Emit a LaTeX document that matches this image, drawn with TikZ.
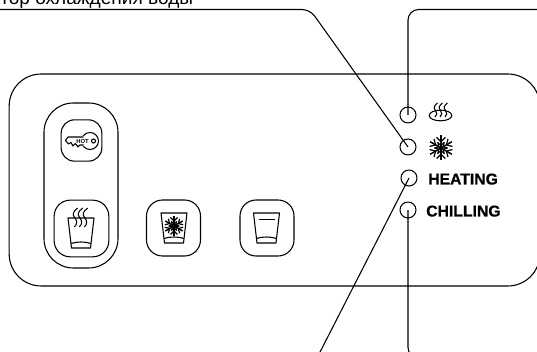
\documentclass[tikz,border=0pt]{standalone}
\usepackage{fontspec}
\usetikzlibrary{shapes.geometric}
\setmainfont{Liberation Sans}
\newfontfamily\boldlabel[FakeBold=0.6]{Liberation Sans Bold}
\tikzset{
  line/.style={line width=0.8pt,black},
  led/.style={circle,draw,line,minimum size=12pt,inner sep=0pt},
  btn/.style={rectangle,draw,line,inner sep=0pt,rounded corners=12pt},
  lbl/.style={font=\fontsize{11.8pt}{12pt}\boldlabel,anchor=base west,inner sep=0pt},
  steamcurve/.pic={\draw[line] (2,0) .. controls (-2,3) and (-2,5) .. (0,7.5) .. controls (2,10) and (1.5,12) .. (-0.5,14);},
  flakepic/.pic={
    \foreach \a in {0,60,...,300}{
      \begin{scope}[rotate=\a+30]
        \draw[line,line width=1.1pt] (0,0) -- (#1,0);
        \draw[line,line width=0.9pt] (0.5*#1,0) -- (0.85*#1,0.35*#1) (0.5*#1,0) -- (0.85*#1,-0.35*#1);
        \draw[line,line width=0.9pt] (0.2*#1,0) -- (0.45*#1,0.27*#1) (0.2*#1,0) -- (0.45*#1,-0.27*#1);
      \end{scope}}
  },
  cuppic/.pic={
    \draw[line,line join=round] (-13,-15) -- (13,-15) -- (9.5,15) -- (-9.5,15) -- cycle;
    \draw[line] (-10,10.5) .. controls (-4,8.5) and (4,8.5) .. (10,10.5);
  }
}
\begin{document}
\begin{tikzpicture}[x=0.75pt,y=-0.75pt]
\useasboundingbox (0,0) rectangle (537,352);
\clip (0,0) rectangle (537,352);
% caption
\node[anchor=base west,inner sep=0pt,font=\fontsize{14.3pt}{15pt}\selectfont] (cap) at (0,5) {тор охлаждения воды};
% panel and capsule
\node[btn,rounded corners=24pt,minimum width=398pt,minimum height=159pt] (panel) at (274.5,180) {};
\node[btn,rounded corners=22pt,minimum width=55.5pt,minimum height=123.75pt] (capsule) at (81,185.5) {};
% buttons
\node[btn,rounded corners=10pt,minimum width=30.5pt,minimum height=31pt] (keybtn) at (81.5,140.5) {};
\node[btn,minimum width=41pt,minimum height=42.5pt] (hotbtn) at (81.5,228.5) {};
\node[btn,minimum width=40.5pt,minimum height=42pt] (snowbtn) at (173.5,228) {};
\node[btn,minimum width=40.5pt,minimum height=42pt] (plainbtn) at (267,228) {};
% key
\draw[line] (90,141) circle[radius=8.5];
\fill[white] (80,136) rectangle (84.5,146);
\draw[line,fill=white,line join=round] (83.5,137) -- (68,137) -- (65.5,140.5) -- (68.5,144) -- (71,142.5) -- (73,146) -- (75.5,143.5) -- (78,147) -- (80,145) -- (83.5,145);
\fill[white] (76,137.6) rectangle (86,144.4);
\draw[line] (93.5,141) circle[radius=2];
\node[font=\fontsize{4.4pt}{4.4pt}\selectfont\bfseries,inner sep=0pt] (hot) at (82.5,141) {HOT};
% cups
\pic at (81,233) {cuppic};
\pic[scale=1.35] at (75,208) {steamcurve};
\pic[scale=1.35] at (80,208) {steamcurve};
\pic[scale=1.35] at (85,208) {steamcurve};
\pic at (174,228) {cuppic};
\pic at (174,226) {flakepic=10};
\pic at (266.5,228) {cuppic};
\coordinate (pa) at (258.5,219.5);
\coordinate (pb) at (274.5,219.5);
\draw[line,line width=0.7pt] (pa) -- (pb);
% LEDs
\node[led] (led1) at (408,115) {};
\node[led] (led2) at (408,147) {};
\node[led] (led3) at (409,178) {};
\node[led] (led4) at (408,210) {};
% symbols
\node[draw,line,ellipse,minimum width=17pt,minimum height=8pt,inner sep=0pt] (bowl) at (440.5,115.5) {};
\pic at (435.5,103) {steamcurve};
\pic at (440.5,103) {steamcurve};
\pic at (445.5,103) {steamcurve};
\pic at (441,148) {flakepic=12.5};
% labels
\node[lbl] (heating) at (428,184.5) {HEATING};
\node[lbl] (chilling) at (426,216.5) {CHILLING};
% leaders
\coordinate (l2a) at (-2,9.5);
\coordinate (l2b) at (310,9.5);
\draw[line,rounded corners=6pt] (l2a) -- (l2b) -- (led2.center);
\coordinate (l1a) at (540,9.5);
\coordinate (l1b) at (408,9.5);
\draw[line,rounded corners=8pt] (l1a) -- (l1b) -- (led1.center);
\coordinate (l4a) at (430,358);
\coordinate (l4b) at (408,358);
\draw[line,rounded corners=8pt] (l4a) -- (l4b) -- (led4.center);
\coordinate (l3a) at (317,358);
\draw[line] (l3a) -- (led3.center);
\end{tikzpicture}
\end{document}
